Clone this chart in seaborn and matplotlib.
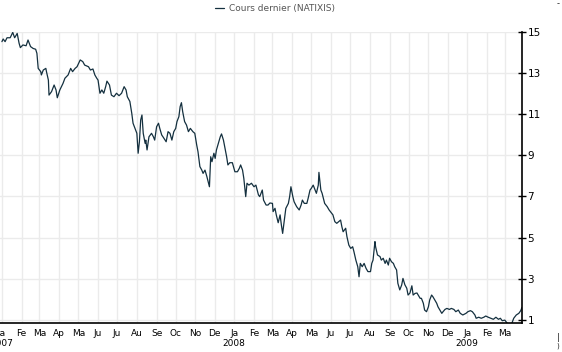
import matplotlib
matplotlib.use('Agg')
import matplotlib.pyplot as plt
import matplotlib.dates as mdates
from matplotlib.ticker import FuncFormatter, FixedLocator
import numpy as np
import pandas as pd
import seaborn as sns

# days since 2007-01-01 and closing price (EUR)
days = [0, 2, 5, 8, 13, 17, 20, 24, 27, 29, 33, 38, 41, 45, 49, 53, 55, 57, 61, 62,
        65, 69, 70, 73, 74, 78, 82, 85, 87, 91, 96, 99, 104, 108, 111, 115, 118, 123, 127, 130,
        136, 139, 143, 146, 149, 151, 154, 157, 160, 163, 165, 169, 172, 176, 180, 184, 188, 192, 195, 197,
        201, 204, 206, 209, 212, 214, 216, 218, 220, 222, 225, 226, 228, 231, 235, 238, 240, 243, 246, 248,
        251, 253, 258, 261, 264, 267, 270, 273, 275, 278, 280, 282, 284, 287, 290, 293, 296, 300, 303, 306,
        308, 311, 314, 316, 319, 322, 324, 326, 328, 330, 333, 335, 337, 340, 343, 345, 348, 350, 353, 355,
        358, 362, 366, 370, 373, 375, 378, 380, 382, 383, 385, 388, 392, 396, 399, 403, 405, 409, 411, 415,
        418, 421, 425, 426, 429, 431, 434, 437, 439, 441, 443, 446, 450, 452, 454, 457, 459, 463, 467, 470,
        472, 475, 479, 481, 484, 486, 489, 492, 494, 497, 498, 501, 503, 505, 507, 511, 514, 518, 520, 523,
        526, 529, 532, 534, 536, 540, 542, 545, 548, 551, 553, 556, 559, 561, 563, 566, 569, 572, 575, 579,
        581, 583, 586, 587, 590, 594, 596, 599, 602, 604, 607, 609, 612, 615, 617, 620, 622, 625, 628, 630,
        633, 636, 638, 641, 644, 646, 649, 652, 657, 659, 662, 664, 667, 670, 672, 675, 677, 680, 683, 685,
        688, 691, 693, 696, 699, 703, 706, 710, 713, 717, 720, 724, 729, 732, 736, 739, 743, 745, 749, 753,
        757, 760, 764, 768, 772, 776, 780, 783, 786, 790, 794, 797, 801, 804, 808, 812, 815, 817]
prices = [14.53, 14.66, 14.53, 14.72, 14.72, 14.98, 14.72, 14.93, 14.45, 14.24, 14.37, 14.33, 14.61, 14.29, 14.2, 14.16, 13.96, 13.23, 13.07, 12.91,
          13.15, 13.23, 13.07, 12.66, 11.93, 12.1, 12.42, 12.18, 11.8, 12.18, 12.5, 12.75, 12.91, 13.23, 13.07, 13.23, 13.31, 13.64, 13.56, 13.39,
          13.31, 13.15, 13.2, 12.91, 12.75, 12.66, 12.02, 12.18, 12.02, 12.34, 12.61, 12.42, 11.93, 11.85, 12.02, 11.9, 12.02, 12.34, 12.18, 11.85,
          11.62, 11.04, 10.56, 10.31, 10.07, 9.1, 9.66, 10.72, 10.96, 10.07, 9.58, 9.74, 9.26, 9.9, 10.07, 9.9, 9.74, 10.39, 10.56, 10.31,
          9.99, 9.9, 9.66, 10.15, 10.07, 9.74, 10.15, 10.31, 10.64, 10.88, 11.37, 11.56, 11.12, 10.64, 10.47, 10.15, 10.31, 10.15, 10.07, 9.5,
          9.18, 8.45, 8.28, 8.12, 8.28, 7.96, 7.72, 7.47, 8.93, 8.69, 9.1, 8.85, 9.26, 9.58, 9.9, 10.04, 9.74, 9.42, 8.93, 8.53,
          8.64, 8.64, 8.2, 8.2, 8.37, 8.53, 8.28, 7.88, 7.31, 6.99, 7.64, 7.55, 7.64, 7.47, 7.55, 7.07, 6.99, 7.31, 6.82, 6.58,
          6.58, 6.68, 6.66, 6.26, 6.42, 6.1, 5.72, 6.1, 5.61, 5.2, 5.69, 6.42, 6.66, 6.99, 7.47, 6.99, 6.74, 6.5, 6.34, 6.58,
          6.82, 6.66, 6.66, 6.9, 7.31, 7.39, 7.55, 7.31, 7.15, 7.55, 8.17, 7.31, 7.15, 6.9, 6.66, 6.5, 6.34, 6.18, 6.1, 5.77,
          5.69, 5.77, 5.85, 5.53, 5.28, 5.45, 5.04, 4.63, 4.47, 4.55, 4.31, 3.9, 3.58, 3.09, 3.74, 3.58, 3.74, 3.5, 3.34, 3.34,
          3.74, 3.9, 4.8, 4.55, 4.15, 4.07, 3.9, 3.99, 3.74, 3.9, 3.66, 3.99, 3.82, 3.74, 3.58, 3.42, 2.77, 2.45, 2.69, 3.01,
          2.7, 2.53, 2.2, 2.3, 2.65, 2.2, 2.28, 2.3, 2.04, 2.04, 1.8, 1.47, 1.39, 1.63, 1.96, 2.2, 2.12, 1.96, 1.8, 1.63,
          1.47, 1.31, 1.39, 1.5, 1.55, 1.5, 1.55, 1.5, 1.39, 1.47, 1.31, 1.23, 1.31, 1.39, 1.44, 1.39, 1.23, 1.07, 1.12, 1.07,
          1.12, 1.18, 1.12, 1.07, 1.02, 1.12, 1.02, 1.07, 0.95, 0.98, 0.82, 0.72, 0.82, 1.07, 1.23, 1.31, 1.44, 1.6]

month_abbr = ['Ja', 'Fe', 'Ma', 'Ap', 'Ma', 'Ju', 'Ju', 'Au', 'Se', 'Oc', 'No', 'De']
y_ticks = [1, 3, 5, 7, 9, 11, 13, 15]
series_name = 'Cours dernier (NATIXIS)'

start = pd.Timestamp('2007-01-01')
df = pd.DataFrame({'date': start + pd.to_timedelta(days, unit='D'), 'price': prices})

sns.set_style('white')
plt.rcParams['font.family'] = ['DejaVu Sans']

fig = plt.figure(figsize=(5.62, 3.52), dpi=100)
ax = fig.add_axes([0.0, 0.0824, 522 / 562, 0.8267])

line_color = '#14303f'
sns.lineplot(data=df, x='date', y='price', ax=ax, color=line_color, linewidth=0.9,
             label=series_name)

ax.set_xlim(start - pd.Timedelta(days=3), start + pd.Timedelta(days=817))
ax.set_ylim(0.84, 15)

# month ticks with year under january
ax.xaxis.set_major_locator(mdates.MonthLocator())
def fmt_month(x, pos):
    d = mdates.num2date(x)
    lab = month_abbr[d.month - 1]
    if d.month == 1:
        lab += '\n' + str(d.year)
    return lab
ax.xaxis.set_major_formatter(FuncFormatter(fmt_month))
ax.yaxis.set_major_locator(FixedLocator(y_ticks))

ax.yaxis.tick_right()
ax.yaxis.set_label_position('right')
ax.set_xlabel('')
ax.set_ylabel('')

ax.grid(True, color='#ebebeb', linewidth=1)
for s in ['top', 'left']:
    ax.spines[s].set_visible(False)
for s in ['right', 'bottom']:
    ax.spines[s].set_color('black')
    ax.spines[s].set_linewidth(1.2)

ax.tick_params(axis='y', which='major', direction='inout', length=6, width=1,
               labelsize=7.5, pad=1, colors='black', right=True, left=False)
ax.tick_params(axis='x', which='major', direction='out', length=3, width=1,
               labelsize=6.5, pad=1, colors='black')
for lab in ax.get_xticklabels():
    lab.set_linespacing(1.15)

leg = ax.legend(loc='center', bbox_to_anchor=(275 / 562, 1 - 9 / 352),
                bbox_transform=fig.transFigure, frameon=False, fontsize=6.5,
                handlelength=1.0, handletextpad=0.6, borderpad=0)
for t in leg.get_texts():
    t.set_color('#555555')

# clipped fragments at the right edge
fig.text(558 / 562, 1 - 4 / 352, '-', fontsize=6, ha='center', va='center')
fig.text(558 / 562, 1 - 338 / 352, '|', fontsize=6, ha='center', va='center')
fig.text(558 / 562, 1 - 346 / 352, ')', fontsize=5, ha='center', va='center')

fig.savefig('out.png', dpi=100)
